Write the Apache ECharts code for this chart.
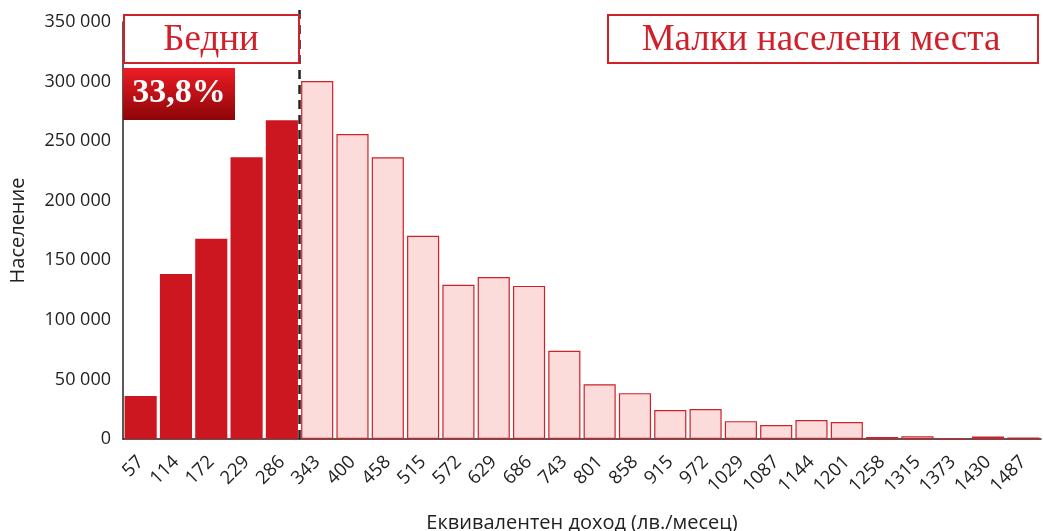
<!DOCTYPE html>
<html lang="bg">
<head>
    <meta charset="UTF-8">
    <title>Малки населени места</title>
    <style>
        html, body { margin: 0; padding: 0; background: #fff; }
        #chart { width: 1043px; height: 531px; }
    </style>
</head>
<body>
<div id="chart"></div>
<script src="https://cdn.jsdelivr.net/npm/echarts@6/dist/echarts.min.js"></script>
<script>
    'use strict';
    // доход по категории (лв./месец)
    let incomeLabels = ['57', '114', '172', '229', '286', '343', '400', '458', '515', '572', '629', '686', '743',
        '801', '858', '915', '972', '1029', '1087', '1144', '1201', '1258', '1315', '1373', '1430', '1487'];
    let population = [36000, 138500, 168000, 236500, 267500, 300500, 256000, 236500, 170500, 129500, 136000, 128500, 74000,
        46000, 38500, 24300, 25200, 15000, 11800, 16000, 14300, 1700, 2400, 0, 2000, 1200];
    let poorCount = 5;          // първите 5 категории са под линията на бедност
    let poorShare = '33,8%';
    let yTicks = [0, 50000, 100000, 150000, 200000, 250000, 300000, 350000];

    let darkRed = '#cc1720';
    let lightFill = '#fcdcda';

    let barData = population.map(function (v, i) {
        if (i < poorCount) {
            return { value: v, itemStyle: { color: darkRed, borderWidth: 0 } };
        }
        return { value: v, itemStyle: { color: lightFill, borderColor: '#d0202a', borderWidth: 1.2 } };
    });

    let myChart = echarts.init(document.getElementById('chart'));
    let option = {
        animation: false,
        grid: { left: 123, right: 2, top: 22, bottom: 92, containLabel: false, outerBoundsMode: 'none' },
        xAxis: [{
            type: 'category',
            data: incomeLabels,
            name: 'Еквивалентен доход (лв./месец)',
            nameLocation: 'middle',
            nameGap: 74,
            nameTextStyle: { fontFamily: 'Open Sans', fontSize: 20, color: '#222' },
            axisLine: { lineStyle: { color: '#222', width: 1.5 } },
            axisTick: { show: false },
            axisLabel: { rotate: 45, interval: 0, fontFamily: 'Open Sans', fontSize: 18.5, color: '#222', margin: 20 }
        }, {
            type: 'value',
            min: 0,
            max: incomeLabels.length,
            show: false
        }],
        yAxis: {
            type: 'value',
            min: yTicks[0],
            max: yTicks[yTicks.length - 1],
            interval: 50000,
            name: 'Население',
            nameLocation: 'middle',
            nameGap: 95,
            nameTextStyle: { fontFamily: 'Open Sans', fontSize: 20, color: '#222' },
            axisLine: { show: true, lineStyle: { color: '#222', width: 1.5 } },
            axisTick: { show: false },
            splitLine: { show: false },
            axisLabel: {
                fontFamily: 'Open Sans', fontSize: 18, color: '#222', margin: 12,
                formatter: function (v) { return String(v).replace(/\B(?=(\d{3})+(?!\d))/g, ' '); }
            }
        },
        series: [{
            type: 'bar',
            data: barData,
            barCategoryGap: '9%',
            z: 2
        }, {
            type: 'line',
            xAxisIndex: 1,
            data: [[poorCount, 0], [poorCount, 362000]],
            symbol: 'none',
            clip: false,
            lineStyle: { color: '#222', width: 2.5, type: [9, 6] },
            z: 5
        }],
        graphic: [
            { type: 'rect', shape: { x: 124, y: 15, width: 175, height: 48 },
              style: { fill: '#fff', stroke: '#d0202a', lineWidth: 2 }, z: 10 },
            { type: 'text', x: 211, y: 40,
              style: { text: 'Бедни', font: '37px "Liberation Serif"', fill: '#d0202a', align: 'center', verticalAlign: 'middle' }, z: 11 },
            { type: 'rect', shape: { x: 608, y: 15, width: 430, height: 48 },
              style: { fill: '#fff', stroke: '#d0202a', lineWidth: 2 }, z: 10 },
            { type: 'text', x: 821, y: 40,
              style: { text: 'Малки населени места', font: '37px "Liberation Serif"', fill: '#d0202a', align: 'center', verticalAlign: 'middle' }, z: 11 },
            { type: 'rect', shape: { x: 123, y: 68, width: 112, height: 52 },
              style: { fill: new echarts.graphic.LinearGradient(0, 0, 0, 1, [
                  { offset: 0, color: '#ee1c25' }, { offset: 1, color: '#8c0508' }]) }, z: 10 },
            { type: 'text', x: 179, y: 93,
              style: { text: poorShare, font: 'bold 34px "Liberation Serif"', fill: '#fff', align: 'center', verticalAlign: 'middle' }, z: 11 }
        ]
    };
    myChart.setOption(option);
</script>
</body>
</html>
